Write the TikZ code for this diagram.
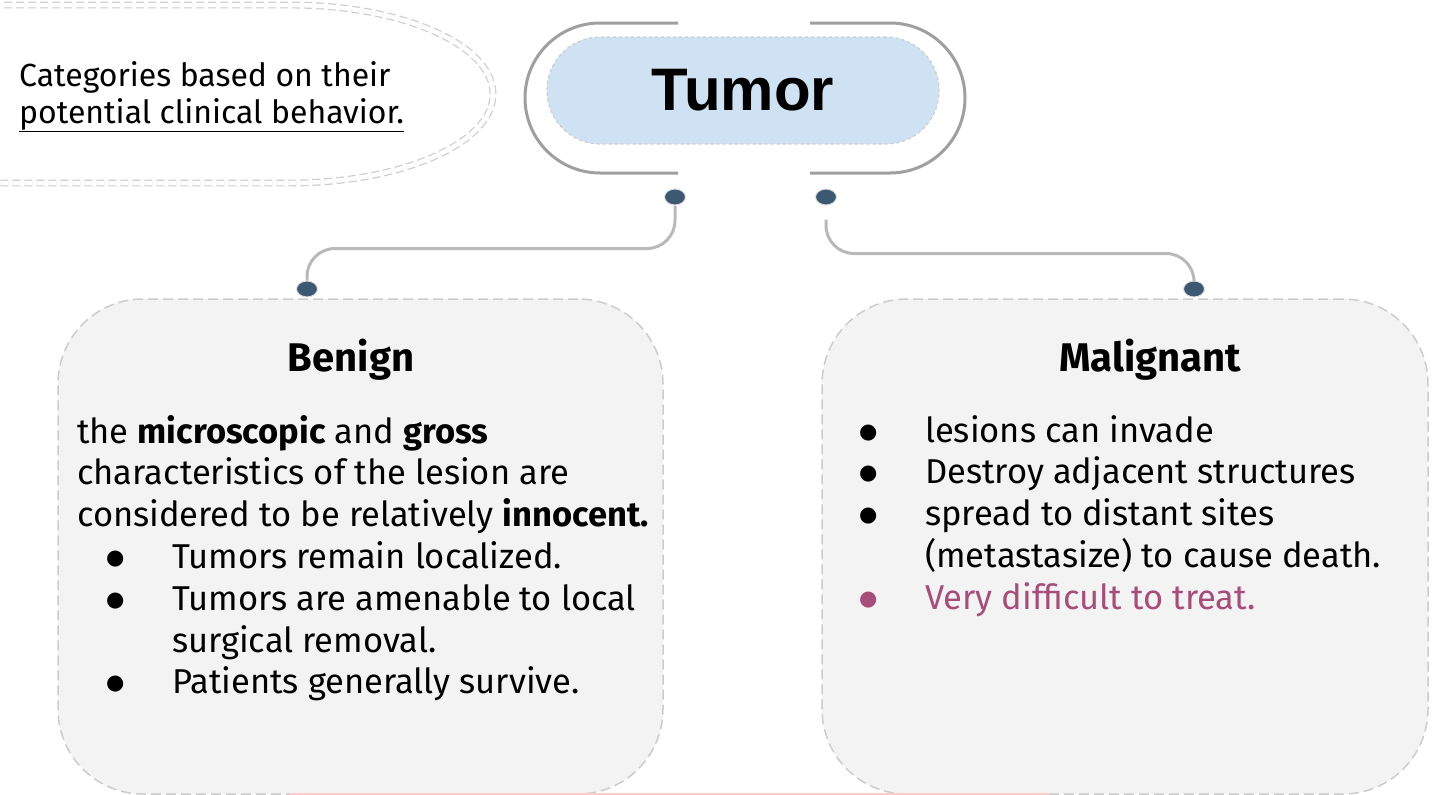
\documentclass[tikz,border=0pt]{standalone}
\usepackage{fontspec}
\setmainfont{Fira Sans}
\newfontfamily\titlefont{Liberation Sans}
\newfontfamily\symfont{DejaVu Sans}
\usetikzlibrary{positioning,shapes.geometric}

\definecolor{tumorblue}{HTML}{CFE2F3}
\definecolor{boxgray}{HTML}{F3F3F3}
\definecolor{dashgray}{HTML}{CCCCCC}
\definecolor{dotblue}{HTML}{3D5873}
\definecolor{linkgray}{HTML}{B9B9B9}
\definecolor{treatpurple}{HTML}{A64D79}

\newcommand{\listdot}{\makebox[66pt][l]{\raisebox{4pt}{\symfont\fontsize{21}{21}\selectfont ●}}}

\tikzset{
  catbox/.style={draw=dashgray, fill=boxgray, dash pattern=on 10pt off 5pt,
    rounded corners=85pt, line width=1.5pt, minimum width=605pt, minimum height=495pt},
  joint/.style={ellipse, fill=dotblue, draw=gray!25, line width=1pt,
    minimum width=21pt, minimum height=16pt, inner sep=0pt},
  link/.style={draw=linkgray, line width=3pt, rounded corners=28pt},
  head/.style={font=\fontsize{40}{44}\selectfont\bfseries, inner sep=0pt, anchor=base},
  body/.style={font=\fontsize{34.5}{41.8}\selectfont, align=left, anchor=north west, inner sep=0pt}
}

\begin{document}
\begin{tikzpicture}[x=1pt,y=-1pt]
\useasboundingbox (0,0) rectangle (1435,795);

%note
\draw [dashgray, double=white, double distance=4.5pt, line width=1.2pt, dash pattern=on 8pt off 4pt]
  (-20,5) -- (290,5) arc[start angle=-90, end angle=90, x radius=203, y radius=89] -- (-20,183);
\node [anchor=north west, inner sep=0pt, align=left, font=\fontsize{32}{37}\selectfont] (note) at (19,61)
  {Categories based on their\\ \underline{potential clinical behavior.}};

%tumor
\draw [gray!75, line width=3pt] (678,23) -- (600,23) arc[start angle=-90, end angle=-270, radius=75] -- (678,173);
\draw [gray!75, line width=3pt] (810,23) -- (890,23) arc[start angle=-90, end angle=90, radius=75] -- (810,173);
\node [draw=dashgray, fill=tumorblue, dashed, line width=1.2pt, rounded corners=53pt,
  minimum width=392pt, minimum height=107pt, font=\titlefont\fontsize{60}{62}\selectfont\bfseries] (tumor) at (743,90.5) {Tumor};

%boxes
\node [catbox] (benign) at (360.5,546.5) {};
\node [catbox, minimum width=606pt] (malignant) at (1125,546.5) {};
\draw [red!20, line width=1.5pt] (290,794) -- (1050,794);

%joints
\node [joint] (d1) at (675,197) {};
\node [joint] (d2) at (826,197) {};
\node [joint] (d3) at (307,289) {};
\node [joint] (d4) at (1194,289) {};

%links
\draw [link] (d1.south) -- ++(0,43) -| (d3.north);
\draw [link, shorten <=14pt] (d2.south) -- ++(0,48) -| (d4.north);

%labels
\node [head] (bhead) at (351,371) {Benign};
\node [head] (mhead) at (1150,371) {Malignant};

\node [body] (btext) at (77,415) {the \textbf{microscopic} and \textbf{gross}\\
  characteristics of the lesion are\\
  considered to be relatively \textbf{innocent.}\\
  \hspace*{29pt}\listdot Tumors remain localized.\\
  \hspace*{29pt}\listdot Tumors are amenable to local\\
  \hspace*{95pt}surgical removal.\\
  \hspace*{29pt}\listdot Patients generally survive.};

\node [body] (mtext) at (859,415) {\listdot lesions can invade\\
  \listdot Destroy adjacent structures\\
  \listdot spread to distant sites\\
  \hspace*{66pt}(metastasize) to cause death.\\
  \textcolor{treatpurple}{\listdot Very difficult to treat.}};

\end{tikzpicture}
\end{document}
